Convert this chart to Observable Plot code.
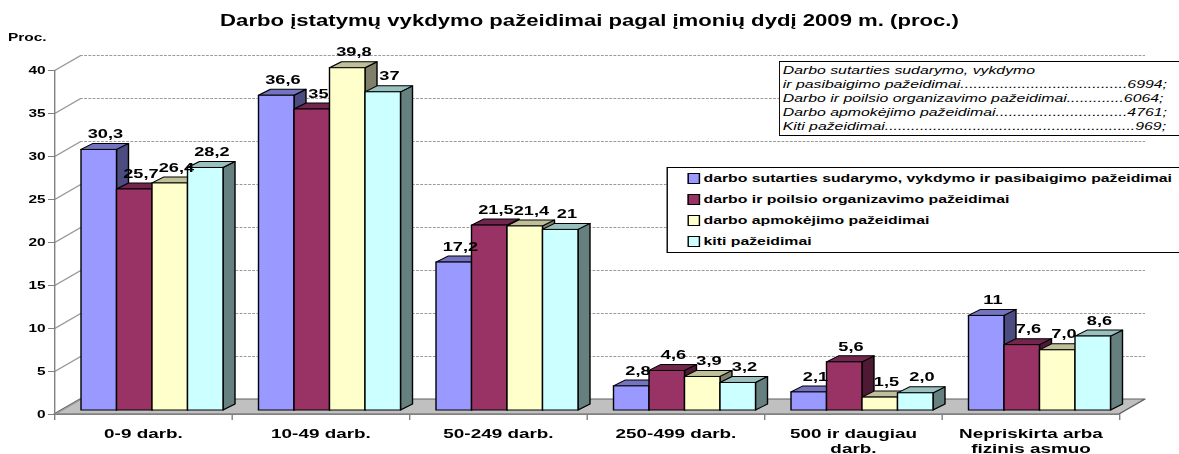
<!DOCTYPE html>
<html>
<head>
<meta charset="utf-8">
<script src="https://cdn.jsdelivr.net/npm/d3@7"></script>
<script src="https://cdn.jsdelivr.net/npm/@observablehq/plot@0.6"></script>
<style>
  html, body { margin: 0; padding: 0; overflow: hidden; background: #fff; width: 1179px; height: 454px; }
  #wrap { position: absolute; left: 0; top: 0; width: 842px; height: 454px; transform-origin: 0 0;
          font-family: "Liberation Sans", Arial, sans-serif; color: #000; }
  #wrap svg { position: absolute; left: 0; top: 0; }
  .title { position: absolute; left: 0; width: 842px; top: 12px; text-align: center; font-weight: bold;
           font-size: 15.8px; line-height: 18px; white-space: nowrap; }
  .proc { position: absolute; left: 5.7px; top: 31px; font-weight: bold; font-size: 11px; line-height: 13px; }
  .note { position: absolute; left: 556px; top: 61px; width: 276px; padding: 1px 11px 2px 2px; background: #fff;
          border: 1px solid #000; font-style: italic; font-size: 11.3px; line-height: 14px; }
  .note .row { display: flex; white-space: nowrap; }
  .note .row span { flex: none; }
  .note .dots { text-align: right; }
  .legend { position: absolute; left: 475.6px; top: 167px; width: 380px; height: 84px; background: #fff;
            border: 1px solid #000; font-weight: bold; font-size: 11.3px; }
  .legend .item { height: 21px; line-height: 21px; display: flex; align-items: center; padding-left: 14.8px; white-space: nowrap; }
  .legend .sw { width: 6.5px; height: 8.5px; border: 1px solid #000; margin-right: 2.5px; box-sizing: content-box; flex: none; }
</style>
</head>
<body>
<div id="wrap"></div>
<script>
// ---------- data ----------
const categories = ["0-9 darb.", "10-49 darb.", "50-249 darb.", "250-499 darb.", "500 ir daugiau\ndarb.", "Nepriskirta arba\nfizinis asmuo"];
const seriesNames = [
  "darbo sutarties sudarymo, vykdymo ir pasibaigimo pažeidimai",
  "darbo ir poilsio organizavimo pažeidimai",
  "darbo apmokėjimo pažeidimai",
  "kiti pažeidimai"
];
const sutartis    = [30.3, 36.6, 17.2, 2.8, 2.1, 11];
const poilsis     = [25.7, 35, 21.5, 4.6, 5.6, 7.6];
const apmokejimas = [26.4, 39.8, 21.4, 3.9, 1.5, 7.0];
const kiti        = [28.2, 37, 21, 3.2, 2.0, 8.6];
const sutartisLabels    = ["30,3", "36,6", "17,2", "2,8", "2,1", "11"];
const poilsisLabels     = ["25,7", "35", "21,5", "4,6", "5,6", "7,6"];
const apmokejimasLabels = ["26,4", "39,8", "21,4", "3,9", "1,5", "7,0"];
const kitiLabels        = ["28,2", "37", "21", "3,2", "2,0", "8,6"];
const yTicks = [0, 5, 10, 15, 20, 25, 30, 35, 40];
const noteHead = "Darbo sutarties sudarymo, vykdymo";
const noteNames = ["ir pasibaigimo pažeidimai", "Darbo ir poilsio organizavimo pažeidimai", "Darbo apmokėjimo pažeidimai", "Kiti pažeidimai"];
const noteTotals = [6994, 6064, 4761, 969];

// ---------- styling ----------
const frontColors = ["#9999FF", "#993366", "#FFFFCC", "#CCFFFF"];
const topColors   = ["#7373BF", "#73264D", "#BFBF99", "#99BFBF"];
const sideColors  = ["#4C4C80", "#4D1933", "#80806A", "#668080"];

const S = 1179 / 842;          // horizontal stretch of the whole chart
const PPU = 8.6;               // px per value unit
const CAT = 177.5;             // px per category (after stretch)
const WX = 26 / CAT, WY = 15 / PPU;     // wall depth
const BX = 12 / CAT, BY = 6 / PPU;      // bar depth
const B = 4 / PPU;                      // bar base (front face)
const OFF = 27 / CAT, BW = 35.5 / CAT;  // bar offset & width

const wrap = document.getElementById("wrap");
wrap.style.transform = `scaleX(${S})`;

const seriesVals = [sutartis, poilsis, apmokejimas, kiti];
const seriesLabs = [sutartisLabels, poilsisLabels, apmokejimasLabels, kitiLabels];

const bars = [];
categories.forEach((c, ci) => {
  seriesVals.forEach((vals, si) => {
    const x1 = ci + OFF + si * BW;
    bars.push({id: `${ci}-${si}`, ci, si, v: vals[ci], label: seriesLabs[si][ci], x1, x2: x1 + BW});
  });
});
const sides = bars.flatMap(b => [
  {id: b.id, x: b.x2, y1: B, y2: B + b.v, fill: sideColors[b.si]},
  {id: b.id, x: b.x2 + BX, y1: B + BY, y2: B + b.v + BY, fill: sideColors[b.si]}
]);
const tops = bars.flatMap(b => [
  {id: b.id, y: B + b.v, x1: b.x1, x2: b.x2, fill: topColors[b.si]},
  {id: b.id, y: B + b.v + BY, x1: b.x1 + BX, x2: b.x2 + BX, fill: topColors[b.si]}
]);
const floor = [
  {y: 0, x1: 0, x2: categories.length},
  {y: WY, x1: WX, x2: categories.length + WX}
];

const chart = Plot.plot({
  width: 842,
  height: 454,
  marginLeft: 54 / S,
  marginRight: 60 / S,
  marginTop: 70,
  marginBottom: 40,
  x: {domain: [0, categories.length], axis: null},
  y: {domain: [0, 40], axis: null},
  color: {type: "identity"},
  style: {fontFamily: "'Liberation Sans', Arial, sans-serif", fontWeight: "bold", background: "transparent", overflow: "visible"},
  marks: [
    Plot.areaX(floor, {y: "y", x1: "x1", x2: "x2", fill: "#c0c0c0", stroke: "#606060", strokeWidth: 1}),
    Plot.ruleY(yTicks.slice(1), {y: d => d + WY, x1: WX, x2: categories.length + WX, stroke: "#9a9a9a", strokeDasharray: "2,1"}),
    Plot.link(yTicks, {x1: 0, y1: d => d, x2: WX, y2: d => d + WY, stroke: "#9a9a9a"}),
    Plot.areaY(sides, {x: "x", y1: "y1", y2: "y2", z: "id", fill: "fill", stroke: "#000", strokeWidth: 1}),
    Plot.areaX(tops, {y: "y", x1: "x1", x2: "x2", z: "id", fill: "fill", stroke: "#000", strokeWidth: 1}),
    Plot.rect(bars, {x1: "x1", x2: "x2", y1: B, y2: d => B + d.v, fill: d => frontColors[d.si], stroke: "#000", strokeWidth: 1}),
    Plot.text(bars, {x: d => d.x1 + BW / 2 + BX / 2, y: d => B + d.v + BY, text: "label", dy: -10, fontSize: 13, fill: "#000"}),
    Plot.ruleX([0], {y1: 0, y2: 40, stroke: "#808080"}),
    Plot.ruleY([0], {x1: 0, x2: categories.length, stroke: "#808080"}),
    Plot.ruleX(d3.range(categories.length + 1), {y1: 0, y2: -6 / PPU, stroke: "#808080"}),
    Plot.axisY(yTicks, {anchor: "left", tickSize: 6 / S, tickPadding: 3 / S, fontSize: 11, stroke: "#808080", fill: "#000"}),
    Plot.text(categories, {x: (d, i) => i + 0.5, y: 0, dy: 13, lineAnchor: "top", fontSize: 13.5, lineHeight: 1.1, fill: "#000"})
  ]
});
wrap.appendChild(chart);

// title & axis label
const title = document.createElement("div");
title.className = "title";
title.textContent = "Darbo įstatymų vykdymo pažeidimai pagal įmonių dydį 2009 m. (proc.)";
wrap.appendChild(title);
const proc = document.createElement("div");
proc.className = "proc";
proc.textContent = "Proc.";
wrap.appendChild(proc);

// note box
const note = document.createElement("div");
note.className = "note";
const head = document.createElement("div");
head.textContent = noteHead;
note.appendChild(head);
wrap.appendChild(note);
const CONTENT_W = 276;
noteNames.forEach((n, i) => {
  const row = document.createElement("div");
  row.className = "row";
  const a = document.createElement("span"); a.textContent = n;
  const d = document.createElement("span"); d.className = "dots"; d.textContent = "..........";
  const b = document.createElement("span"); b.textContent = noteTotals[i] + ";";
  row.append(a, d, b);
  note.appendChild(row);
  const dotW = d.getBoundingClientRect().width / S / 10;
  const avail = CONTENT_W - (a.getBoundingClientRect().width + b.getBoundingClientRect().width) / S - 1;
  d.textContent = ".".repeat(Math.max(0, Math.floor(avail / dotW)));
});

// legend
const legend = document.createElement("div");
legend.className = "legend";
seriesNames.forEach((n, i) => {
  const item = document.createElement("div");
  item.className = "item";
  const sw = document.createElement("span");
  sw.className = "sw";
  sw.style.background = frontColors[i];
  const t = document.createElement("span");
  t.textContent = n;
  item.append(sw, t);
  legend.appendChild(item);
});
wrap.appendChild(legend);
</script>
</body>
</html>
